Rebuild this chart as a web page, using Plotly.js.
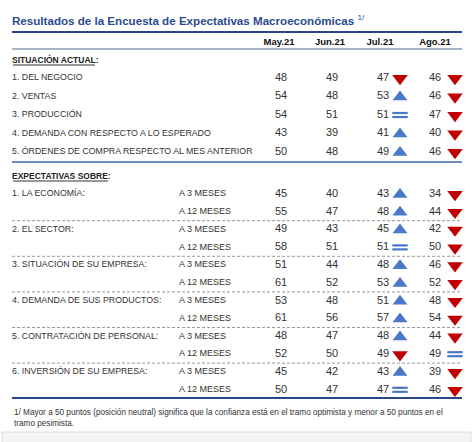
<!DOCTYPE html>
<html><head><meta charset="utf-8">
<script src="https://cdn.plot.ly/plotly-3.0.1.min.js"></script>
<style>html,body{margin:0;padding:0;background:#fff;}#chart{width:474px;height:442px;}</style>
</head><body><div id="chart"></div>
<script>
// ---- data ----
const months = ['May.21','Jun.21','Jul.21','Ago.21'];
const sitLabels = ['1. DEL NEGOCIO','2. VENTAS','3. PRODUCCIÓN','4. DEMANDA CON RESPECTO A LO ESPERADO','5. ÓRDENES DE COMPRA RESPECTO AL MES ANTERIOR'];
const sitMay = [48,54,54,43,50];
const sitJun = [49,48,51,39,48];
const sitJul = [47,53,51,41,49];
const sitAgo = [46,46,47,40,46];
const expTopics = ['1. LA ECONOMÍA:','2. EL SECTOR:','3. SITUACIÓN DE SU EMPRESA:','4. DEMANDA DE SUS PRODUCTOS:','5. CONTRATACIÓN DE PERSONAL:','6. INVERSIÓN DE SU EMPRESA:'];
const horizons = ['A 3 MESES','A 12 MESES'];
const expMay = [45,55,49,58,51,61,53,61,48,52,45,50];
const expJun = [40,47,43,51,44,52,48,56,47,50,42,47];
const expJul = [43,48,45,51,48,53,51,57,48,49,43,47];
const expAgo = [34,44,42,50,46,52,48,54,44,49,39,46];
const titleText = 'Resultados de la Encuesta de Expectativas Macroeconómicas';
const sectionTitles = ['SITUACIÓN ACTUAL:','EXPECTATIVAS SOBRE:'];
const footnote = '1/ Mayor a 50 puntos (posición neutral) significa que la confianza está en el tramo optimista y menor a 50 puntos en el<br>tramo pesimista.';

// ---- layout helpers ----
const FONT = '"Liberation Sans Narrow","Arial Narrow","Liberation Sans",Arial,sans-serif';
const colX = [281, 332, 383, 435];
const trendX = [400, 455];
const headerX = [279, 330, 380, 435];
const sitY = sitLabels.map((_, i) => 78 + i * 18.5);
const expY = expMay.map((_, i) => 194 + i * 17.8);
const allY = sitY.concat(expY);
const series = [sitMay.concat(expMay), sitJun.concat(expJun), sitJul.concat(expJul), sitAgo.concat(expAgo)];

const traces = [];
// header
traces.push({x: headerX, y: months.map(() => 43), text: months.map(m => '<b>' + m + '</b>'),
  mode: 'text', textposition: 'middle center', textfont: {family: FONT, size: 9.5, color: '#111'}, hoverinfo: 'skip'});
// section titles
traces.push({x: [12, 12], y: [60.5, 176.5], text: sectionTitles.map(s => '<b>' + s + '</b>'),
  mode: 'text', textposition: 'middle right', textfont: {family: FONT, size: 8.5, color: '#222'}, hoverinfo: 'skip'});
// row labels
const labX = [], labY = [], labT = [];
sitLabels.forEach((l, i) => { labX.push(12); labY.push(sitY[i]); labT.push(l); });
expTopics.forEach((l, i) => { labX.push(12); labY.push(expY[2 * i]); labT.push(l); });
traces.push({x: labX, y: labY, text: labT, mode: 'text', textposition: 'middle right',
  textfont: {family: FONT, size: 8.8, color: '#333'}, hoverinfo: 'skip'});
// horizons
traces.push({x: expY.map(() => 179), y: expY, text: expY.map((_, i) => horizons[i % 2]),
  mode: 'text', textposition: 'middle right', textfont: {family: FONT, size: 9, color: '#333'}, hoverinfo: 'skip'});
// numbers
series.forEach((s, k) => {
  traces.push({x: s.map(() => colX[k]), y: allY, text: s.map(String), mode: 'text', textposition: 'middle center',
    textfont: {family: FONT, size: 11, color: '#333'}, hoverinfo: 'skip'});
});
// trends (Jul vs Jun, Ago vs Jul)
const upX = [], upY = [], dnX = [], dnY = [], eqX = [], eqY = [];
[2, 3].forEach((k, j) => {
  series[k].forEach((v, i) => {
    const prev = series[k - 1][i];
    if (v > prev) { upX.push(trendX[j]); upY.push(allY[i] + 0.5); }
    else if (v < prev) { dnX.push(trendX[j]); dnY.push(allY[i] + 0.5); }
    else { eqX.push(trendX[j]); eqY.push(allY[i]); }
  });
});
traces.push({x: upX, y: upY, mode: 'markers', marker: {symbol: 'triangle-up', size: 13, color: '#4a78c8'}, hoverinfo: 'skip'});
traces.push({x: dnX, y: dnY, mode: 'markers', marker: {symbol: 'triangle-down', size: 13.5, color: '#c00000'}, hoverinfo: 'skip'});
traces.push({x: eqX, y: eqY.map(y => y - 2), mode: 'markers', marker: {symbol: 'line-ew', size: 11, line: {width: 2.2, color: '#4a78c8'}}, hoverinfo: 'skip'});
traces.push({x: eqX, y: eqY.map(y => y + 2), mode: 'markers', marker: {symbol: 'line-ew', size: 11, line: {width: 2.2, color: '#4a78c8'}}, hoverinfo: 'skip'});

// shapes
const shapes = [];
const hline = (y, color, width, dash) => shapes.push({type: 'line', xref: 'x', yref: 'y', x0: 12, x1: 462, y0: y, y1: y,
  line: {color: color, width: width, dash: dash || 'solid'}});
hline(32, '#2a4585', 2);
hline(49, '#8d9bb5', 1.5);
hline(162, '#6d8bbd', 2);
hline(398, '#2a4585', 2);
for (let g = 0; g < expTopics.length - 1; g++) {
  hline((expY[2 * g + 1] + expY[2 * g + 2]) / 2, '#9a9a9a', 1, '3px,2px');
}
shapes.push({type: 'line', xref: 'x', yref: 'y', x0: 13, x1: 95, y0: 65, y1: 65, line: {color: '#333', width: 1}});
shapes.push({type: 'line', xref: 'x', yref: 'y', x0: 13, x1: 108, y0: 181, y1: 181, line: {color: '#333', width: 1}});
shapes.push({type: 'rect', xref: 'x', yref: 'y', x0: 2, x1: 471, y0: 432, y1: 445, fillcolor: '#f4f4f4', line: {color: '#dcdcdc', width: 1}, layer: 'below'});

const layout = {
  width: 474, height: 442, margin: {l: 0, r: 0, t: 0, b: 0},
  paper_bgcolor: '#ffffff', plot_bgcolor: '#ffffff', showlegend: false,
  xaxis: {range: [0, 474], visible: false, fixedrange: true},
  yaxis: {range: [442, 0], visible: false, fixedrange: true},
  title: {text: '<b>' + titleText + '</b> <sup>1/</sup>', x: 12 / 474, xanchor: 'left', xref: 'paper',
    y: 1 - 21 / 442, yanchor: 'middle', yref: 'paper', font: {family: FONT, size: 11.6, color: '#2b4b8e'}},
  shapes: shapes,
  annotations: [{text: footnote, xref: 'x', yref: 'y', x: 12, y: 417.5, xanchor: 'left', yanchor: 'middle', align: 'left',
    showarrow: false, font: {family: FONT, size: 8.2, color: '#333'}}]
};
Plotly.newPlot('chart', traces, layout, {staticPlot: true, displayModeBar: false});
</script></body></html>
